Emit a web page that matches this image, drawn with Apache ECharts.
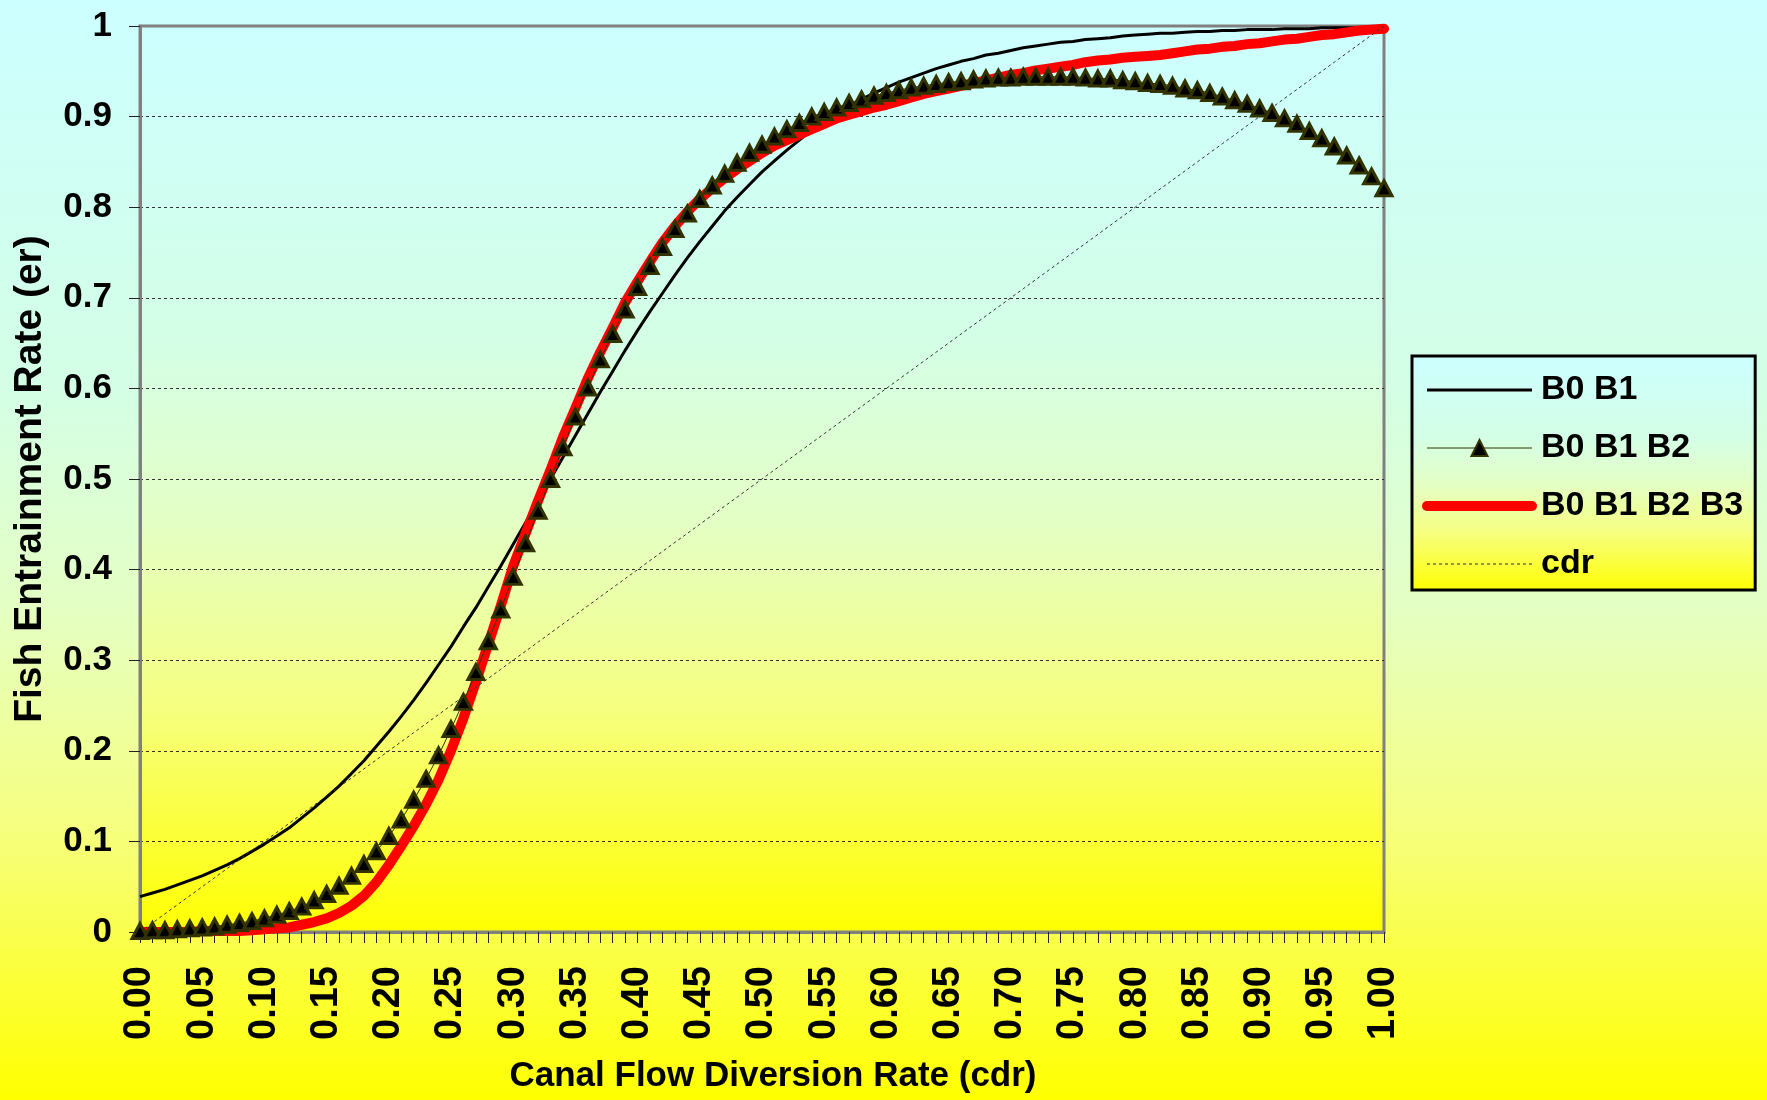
<!DOCTYPE html>
<html>
<head>
<meta charset="utf-8">
<script src="https://cdn.jsdelivr.net/npm/echarts@6/dist/echarts.min.js"></script>
<style>
html,body{margin:0;padding:0;width:1767px;height:1100px;overflow:hidden;}
#chart{width:1767px;height:1100px;}
</style>
</head>
<body>
<div id="chart"></div>
<script>
// x categories: canal flow diversion rate
var xCats = ['0.00','0.01','0.02','0.03','0.04','0.05','0.06','0.07','0.08','0.09',
'0.10','0.11','0.12','0.13','0.14','0.15','0.16','0.17','0.18','0.19',
'0.20','0.21','0.22','0.23','0.24','0.25','0.26','0.27','0.28','0.29',
'0.30','0.31','0.32','0.33','0.34','0.35','0.36','0.37','0.38','0.39',
'0.40','0.41','0.42','0.43','0.44','0.45','0.46','0.47','0.48','0.49',
'0.50','0.51','0.52','0.53','0.54','0.55','0.56','0.57','0.58','0.59',
'0.60','0.61','0.62','0.63','0.64','0.65','0.66','0.67','0.68','0.69',
'0.70','0.71','0.72','0.73','0.74','0.75','0.76','0.77','0.78','0.79',
'0.80','0.81','0.82','0.83','0.84','0.85','0.86','0.87','0.88','0.89',
'0.90','0.91','0.92','0.93','0.94','0.95','0.96','0.97','0.98','0.99','1.00'];

var seriesNames = ['B0 B1', 'B0 B1 B2', 'B0 B1 B2 B3', 'cdr'];

var b0b1 = [0.039,0.043,0.047,0.052,0.057,0.062,0.068,0.074,0.081,0.089,
0.097,0.106,0.115,0.126,0.137,0.149,0.161,0.175,0.189,0.205,
0.221,0.238,0.256,0.275,0.295,0.315,0.337,0.358,0.381,0.404,
0.428,0.452,0.476,0.500,0.524,0.548,0.572,0.596,0.619,0.642,
0.664,0.685,0.705,0.725,0.744,0.762,0.779,0.796,0.811,0.825,
0.839,0.851,0.863,0.874,0.885,0.894,0.903,0.911,0.919,0.926,
0.932,0.938,0.943,0.948,0.953,0.957,0.961,0.964,0.968,0.970,
0.973,0.976,0.978,0.980,0.982,0.983,0.985,0.986,0.987,0.989,
0.990,0.991,0.992,0.992,0.993,0.994,0.994,0.995,0.995,0.996,
0.996,0.996,0.997,0.997,0.997,0.998,0.998,0.998,0.998,0.998,0.999];

var b0b1b2 = [0.001,0.002,0.002,0.003,0.004,0.005,0.006,0.008,0.010,0.012,
0.015,0.019,0.023,0.028,0.035,0.042,0.051,0.062,0.075,0.089,
0.106,0.124,0.146,0.169,0.195,0.224,0.254,0.287,0.321,0.356,
0.392,0.429,0.465,0.500,0.535,0.569,0.601,0.632,0.660,0.687,
0.712,0.735,0.756,0.776,0.793,0.809,0.824,0.837,0.849,0.860,
0.869,0.878,0.886,0.893,0.900,0.905,0.910,0.915,0.919,0.923,
0.926,0.929,0.932,0.934,0.936,0.938,0.939,0.941,0.942,0.943,
0.943,0.944,0.944,0.944,0.944,0.944,0.943,0.942,0.942,0.940,
0.939,0.937,0.936,0.934,0.931,0.929,0.926,0.922,0.918,0.914,
0.909,0.904,0.898,0.892,0.884,0.876,0.867,0.857,0.846,0.834,0.821];

var b0b1b2b3 = [0.000,0.000,0.000,0.000,0.000,0.001,0.001,0.001,0.001,0.002,
0.003,0.004,0.005,0.008,0.011,0.015,0.021,0.029,0.040,0.055,
0.074,0.095,0.117,0.141,0.168,0.200,0.236,0.276,0.318,0.360,
0.404,0.440,0.476,0.510,0.546,0.578,0.611,0.640,0.667,0.695,
0.718,0.740,0.761,0.779,0.795,0.809,0.821,0.832,0.842,0.851,
0.860,0.868,0.874,0.880,0.886,0.892,0.898,0.902,0.906,0.910,
0.913,0.917,0.921,0.925,0.928,0.931,0.934,0.937,0.940,0.943,
0.946,0.948,0.951,0.953,0.955,0.957,0.960,0.962,0.963,0.965,
0.966,0.967,0.968,0.970,0.972,0.974,0.975,0.977,0.978,0.980,
0.981,0.983,0.985,0.986,0.988,0.990,0.991,0.993,0.995,0.996,0.997];

var cdr = [0.00,0.01,0.02,0.03,0.04,0.05,0.06,0.07,0.08,0.09,
0.10,0.11,0.12,0.13,0.14,0.15,0.16,0.17,0.18,0.19,
0.20,0.21,0.22,0.23,0.24,0.25,0.26,0.27,0.28,0.29,
0.30,0.31,0.32,0.33,0.34,0.35,0.36,0.37,0.38,0.39,
0.40,0.41,0.42,0.43,0.44,0.45,0.46,0.47,0.48,0.49,
0.50,0.51,0.52,0.53,0.54,0.55,0.56,0.57,0.58,0.59,
0.60,0.61,0.62,0.63,0.64,0.65,0.66,0.67,0.68,0.69,
0.70,0.71,0.72,0.73,0.74,0.75,0.76,0.77,0.78,0.79,
0.80,0.81,0.82,0.83,0.84,0.85,0.86,0.87,0.88,0.89,
0.90,0.91,0.92,0.93,0.94,0.95,0.96,0.97,0.98,0.99,1.00];

var yTicks = ['0','0.1','0.2','0.3','0.4','0.5','0.6','0.7','0.8','0.9','1'];

function grad() {
  return {
    type: 'linear', x: 0, y: 0, x2: 0, y2: 1,
    colorStops: [
      {offset: 0, color: '#CCFFFF'},
      {offset: 0.35, color: '#D4FFE6'},
      {offset: 0.55, color: '#E4FFC4'},
      {offset: 0.75, color: '#F6FF80'},
      {offset: 1, color: '#FFFF00'}
    ]
  };
}

var FONT = 'Liberation Sans, Arial, sans-serif';
var RED_W = 10;

var chart = echarts.init(document.getElementById('chart'), null, {renderer: 'canvas'});
chart.setOption({
  animation: false,
  backgroundColor: grad(),
  grid: {
    left: 140, right: 383, top: 26, bottom: 168,
    containLabel: false,
    outerBoundsMode: 'none',
    show: true,
    backgroundColor: grad(),
    borderColor: '#808080',
    borderWidth: 3
  },
  legend: {
    orient: 'vertical',
    left: 1412, top: 356,
    padding: [14, 12, 6, 10],
    itemGap: 18,
    itemWidth: 105,
    itemHeight: 20,
    backgroundColor: grad(),
    borderColor: '#000',
    borderWidth: 3,
    data: [
      {name: seriesNames[0], itemStyle: {opacity: 0}, lineStyle: {width: 3, color: '#000'}},
      {name: seriesNames[1], lineStyle: {width: 1, color: '#333300'}},
      {name: seriesNames[2], itemStyle: {opacity: 0}, lineStyle: {width: RED_W, color: '#FF0000', cap: 'round'}},
      {name: seriesNames[3], itemStyle: {opacity: 0}, lineStyle: {width: 1, color: '#333', type: [3, 3]}}
    ],
    textStyle: {
      fontFamily: FONT, fontWeight: 'bold', fontSize: 34, color: '#000',
      lineHeight: 40, padding: [0, 0, 0, 4]
    }
  },
  xAxis: {
    type: 'category',
    data: xCats,
    boundaryGap: false,
    name: 'Canal Flow Diversion Rate (cdr)',
    nameLocation: 'middle',
    nameGap: 127,
    nameTextStyle: {fontFamily: FONT, fontWeight: 'bold', fontSize: 35, color: '#000',
      padding: [0, 0, 0, 22]},
    axisLine: {show: true, lineStyle: {color: '#808080', width: 3}},
    axisTick: {show: true, interval: 0, length: 11, lineStyle: {color: '#222', width: 1}},
    axisLabel: {
      interval: 4, rotate: 90, margin: 34,
      fontFamily: FONT, fontWeight: 'bold', fontSize: 38, color: '#000'
    },
    splitLine: {show: false}
  },
  yAxis: {
    type: 'value',
    min: 0, max: 1, interval: 0.1,
    name: 'Fish Entrainment Rate (er)',
    nameLocation: 'middle',
    nameGap: 90,
    nameRotate: 90,
    nameTextStyle: {fontFamily: FONT, fontWeight: 'bold', fontSize: 39, color: '#000'},
    axisLine: {show: true, lineStyle: {color: '#808080', width: 3}},
    axisTick: {show: true, length: 11, lineStyle: {color: '#222', width: 1}},
    axisLabel: {
      margin: 28,
      fontFamily: FONT, fontWeight: 'bold', fontSize: 35, color: '#000',
      formatter: function (v) { return yTicks[Math.round(v * 10)]; }
    },
    splitLine: {show: true, showMinLine: false, showMaxLine: false,
      lineStyle: {color: '#333', width: 1, type: [3, 3]}}
  },
  series: [
    {
      name: seriesNames[0], type: 'line', data: b0b1, z: 2,
      showSymbol: false, symbol: 'none',
      lineStyle: {color: '#000', width: 3}, itemStyle: {color: '#000'}
    },
    {
      name: seriesNames[1], type: 'line', data: b0b1b2, z: 5,
      symbol: 'triangle', symbolSize: [16, 15], showSymbol: true, showAllSymbol: true,
      lineStyle: {color: '#333300', width: 1},
      itemStyle: {color: '#000', borderColor: '#333300', borderWidth: 3}
    },
    {
      name: seriesNames[2], type: 'line', data: b0b1b2b3, z: 3,
      showSymbol: false, symbol: 'none',
      lineStyle: {color: '#FF0000', width: RED_W, cap: 'round', join: 'round'},
      itemStyle: {color: '#FF0000'}
    },
    {
      name: seriesNames[3], type: 'line', data: cdr, z: 4,
      showSymbol: false, symbol: 'none',
      lineStyle: {color: '#333', width: 1, type: [3, 3]},
      itemStyle: {color: '#333'}
    }
  ]
});
</script>
</body>
</html>
